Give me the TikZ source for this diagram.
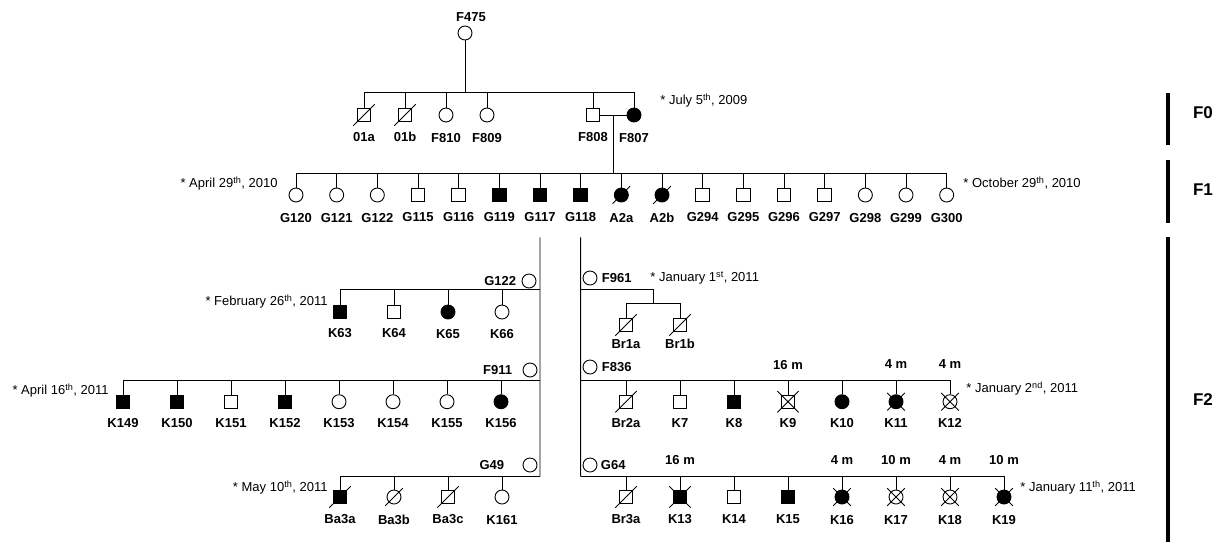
\documentclass[tikz,border=0pt]{standalone}
\usepackage{fontspec}
\setmainfont{Liberation Sans}
\usepackage{tikz}
\usetikzlibrary{positioning,calc}

\begin{document}
\begin{tikzpicture}[x=1pt,y=-1pt,line width=0.9pt,
  every node/.style={inner sep=0pt},
  male/.style={draw,rectangle,minimum size=13.5pt},
  fem/.style={draw,circle,minimum size=14pt},
  maleA/.style={male,fill=black},
  femA/.style={fem,fill=black},
  plain/.style={},
  dec/.style={append after command={\pgfextra{\draw ([shift={(-3.5pt,-3.5pt)}]\tikzlastnode.225) -- ([shift={(3.5pt,3.5pt)}]\tikzlastnode.45);}}},
  crossed/.style={append after command={\pgfextra{\draw ([shift={(-3.5pt,-3.5pt)}]\tikzlastnode.225) -- ([shift={(3.5pt,3.5pt)}]\tikzlastnode.45) ([shift={(-3.5pt,3.5pt)}]\tikzlastnode.135) -- ([shift={(3.5pt,-3.5pt)}]\tikzlastnode.315);}}},
  lab/.style={font=\fontsize{13}{15}\selectfont\bfseries,text height=9.3pt,text depth=0pt},
  date/.style={font=\fontsize{13}{15}\selectfont,text height=9.3pt,text depth=0pt},
  gen/.style={font=\fontsize{17}{20}\selectfont\bfseries}]
  \useasboundingbox (0,0) rectangle (1225,542);

  \node[fem] (F475) at (465,33) {};
  \node[lab,above=4pt of F475,xshift=6pt] (F475-l) {F475};
  \coordinate (f0bar) at (465,92);
  \draw (F475) -- (f0bar);
  \foreach \n/\s/\mk/\px in {01a/male/dec/364,01b/male/dec/405,F810/fem/plain/446,F809/fem/plain/487,F808/male/plain/593,F807/femA/plain/634}{
    \node[\s,\mk] (\n) at (\px,115) {};
    \node[lab,below=10pt of \n] (\n-l) {\n};
    \draw (\n) |- (f0bar);
  }
  \draw (F808) -- (F807);
  \coordinate (m0) at ($(F808)!0.5!(F807)$);
  \coordinate (f1bar) at ($(m0)+(0,58)$);
  \draw (m0) -- (f1bar);
  \node[date,anchor=west] (d0) at (660,100) {* July 5\textsuperscript{th}, 2009};

  \foreach \n/\s/\mk [count=\i from 0] in {G120/fem/plain,G121/fem/plain,G122/fem/plain,G115/male/plain,G116/male/plain,G119/maleA/plain,G117/maleA/plain,G118/maleA/plain,A2a/femA/dec,A2b/femA/dec,G294/male/plain,G295/male/plain,G296/male/plain,G297/male/plain,G298/fem/plain,G299/fem/plain,G300/fem/plain}{
    \node[\s,\mk] (\n) at ({296+122/3*\i},195) {};
    \node[lab,below=10pt of \n] (\n-l) {\n};
    \draw (\n) |- (f1bar);
  }
  \node[date,anchor=east] (d1) at (278,183) {* April 29\textsuperscript{th}, 2010};
  \node[date,anchor=west] (d2) at (963,183) {* October 29\textsuperscript{th}, 2010};

  \coordinate (k63bar) at (540,289.5);
  \coordinate (k149bar) at (540,380);
  \coordinate (ba3bar) at (540,476.7);
  \draw ([yshift=-15pt]G117-l.south) -- (ba3bar);
  \node[fem] (G122s) at (529,281) {};
  \node[lab,left=5pt of G122s] (G122s-l) {G122};
  \node[fem] (F911) at (530,370) {};
  \node[lab,left=10pt of F911] (F911-l) {F911};
  \node[fem] (G49) at (530,465) {};
  \node[lab,left=18pt of G49] (G49-l) {G49};
  \foreach \n/\s/\mk [count=\i from 0] in {K63/maleA/plain,K64/male/plain,K65/femA/plain,K66/fem/plain}{
    \node[\s,\mk] (\n) at ({340+54*\i},312) {};
    \node[lab,below=9pt of \n] (\n-l) {\n};
    \draw (\n) |- (k63bar);
  }
  \foreach \n/\s/\mk [count=\i from 0] in {K149/maleA/plain,K150/maleA/plain,K151/male/plain,K152/maleA/plain,K153/fem/plain,K154/fem/plain,K155/fem/plain,K156/femA/plain}{
    \node[\s,\mk] (\n) at ({123+54*\i},401.7) {};
    \node[lab,below=9pt of \n] (\n-l) {\n};
    \draw (\n) |- (k149bar);
  }
  \foreach \n/\s/\mk [count=\i from 0] in {Ba3a/maleA/dec,Ba3b/fem/dec,Ba3c/male/dec,K161/fem/plain}{
    \node[\s,\mk] (\n) at ({340+54*\i},497) {};
    \node[lab,below=10pt of \n] (\n-l) {\n};
    \draw (\n) |- (ba3bar);
  }
  \node[date,anchor=east] (d3) at (328,301) {* February 26\textsuperscript{th}, 2011};
  \node[date,anchor=east] (d4) at (109,390) {* April 16\textsuperscript{th}, 2011};
  \node[date,anchor=east] (d5) at (328,487) {* May 10\textsuperscript{th}, 2011};

  \coordinate (f961bar) at (580.67,289);
  \coordinate (tw) at (653,289);
  \coordinate (tw2) at (653,303);
  \coordinate (f836bar) at (580.67,380.7);
  \coordinate (g64bar) at (580.67,476.7);
  \draw ([yshift=-15pt]G118-l.south) -- (g64bar);
  \draw (f961bar) -- (tw) -- (tw2);
  \node[fem] (F961) at (590,278) {};
  \node[lab,right=4pt of F961] (F961-l) {F961};
  \node[fem] (F836) at (590,367) {};
  \node[lab,right=4pt of F836] (F836-l) {F836};
  \node[fem] (G64) at (590,465) {};
  \node[lab,right=3pt of G64] (G64-l) {G64};
  \foreach \n/\px in {Br1a/626,Br1b/680}{
    \node[male,dec] (\n) at (\px,325) {};
    \node[lab,below=7pt of \n] (\n-l) {\n};
    \draw (\n) |- (tw2);
  }
  \foreach \n/\s/\mk [count=\i from 0] in {Br2a/male/dec,K7/male/plain,K8/maleA/plain,K9/male/crossed,K10/femA/plain,K11/femA/crossed,K12/fem/crossed}{
    \node[\s,\mk] (\n) at ({626+54*\i},401.7) {};
    \node[lab,below=9pt of \n] (\n-l) {\n};
    \draw (\n) |- (f836bar);
  }
  \foreach \n/\s/\mk [count=\i from 0] in {Br3a/male/dec,K13/maleA/crossed,K14/male/plain,K15/maleA/plain,K16/femA/crossed,K17/fem/crossed,K18/fem/crossed,K19/femA/crossed}{
    \node[\s,\mk] (\n) at ({626+54*\i},497) {};
    \node[lab,below=10pt of \n] (\n-l) {\n};
    \draw (\n) |- (g64bar);
  }
  \foreach \k/\a in {K9/16 m,K11/4 m,K12/4 m,K13/16 m,K16/4 m,K17/10 m,K18/4 m,K19/10 m}
    \node[lab,above=25pt of \k] (\k-a) {\a};
  \node[date,anchor=west] (d6) at (650,277) {* January 1\textsuperscript{st}, 2011};
  \node[date,anchor=west] (d7) at (966,388) {* January 2\textsuperscript{nd}, 2011};
  \node[date,anchor=west] (d8) at (1020,487) {* January 11\textsuperscript{th}, 2011};

  \draw[line width=4pt] (1168,93) -- (1168,145);
  \draw[line width=4pt] (1168,160) -- (1168,223);
  \draw[line width=4pt] (1168,237) -- (1168,542);
  \node[gen] (F0) at (1203,113) {F0};
  \node[gen] (F1) at (1203,190) {F1};
  \node[gen] (F2) at (1203,400) {F2};
\end{tikzpicture}
\end{document}
